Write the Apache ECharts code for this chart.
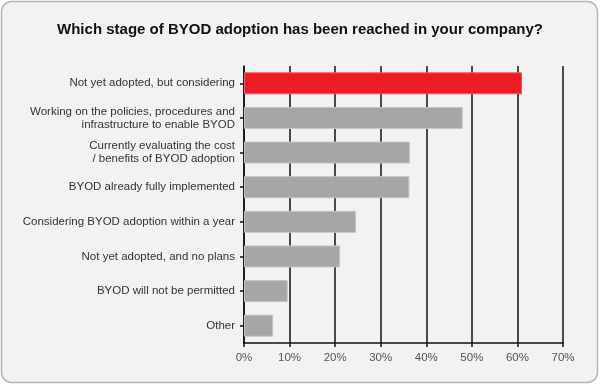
<!DOCTYPE html>
<html><head><meta charset="utf-8">
<script src="https://cdn.jsdelivr.net/npm/echarts@6/dist/echarts.min.js"></script>
<style>html,body{margin:0;padding:0;background:#fff}#c{width:600px;height:385px}</style>
</head><body><div id="c"></div>
<script>
const titleText = 'Which stage of BYOD adoption has been reached in your company?';
const categories = [
  'Not yet adopted, but considering',
  'Working on the policies, procedures and\ninfrastructure to enable BYOD',
  'Currently evaluating the cost\n/ benefits of BYOD adoption',
  'BYOD already fully implemented',
  'Considering BYOD adoption within a year',
  'Not yet adopted, and no plans',
  'BYOD will not be permitted',
  'Other'
];
const values = [61.0, 48.0, 36.4, 36.3, 24.6, 21.1, 9.6, 6.4];
const highlightIndex = 0;
const xMax = 70, xStep = 10;

const chart = echarts.init(document.getElementById('c'));
chart.setOption({
  backgroundColor: '#ffffff',
  animation: false,
  graphic: [{
    type: 'rect', z: -10, silent: true,
    shape: { x: 1.5, y: 1.5, width: 596, height: 381, r: 10 },
    style: { fill: '#f2f2f2', stroke: '#b5b5b5', lineWidth: 1.5 }
  }],
  title: {
    text: titleText, left: 'center', top: 17,
    textStyle: { fontFamily: 'Liberation Sans', fontWeight: 'bold', fontSize: 15, color: '#111' }
  },
  grid: { left: 244, right: 37, top: 66, bottom: 42 },
  xAxis: {
    type: 'value', min: 0, max: xMax, interval: xStep,
    axisLine: { show: true, lineStyle: { color: '#111', width: 1.5 } },
    axisTick: { show: true, length: 4, lineStyle: { color: '#111', width: 1.5 } },
    axisLabel: { formatter: '{value}%', color: '#555', fontFamily: 'Liberation Sans', fontSize: 11.5, margin: 9 },
    splitLine: { show: true, lineStyle: { color: '#111', width: 1.5 } }
  },
  yAxis: {
    type: 'category', data: categories, inverse: true,
    axisLine: { show: true, lineStyle: { color: '#111', width: 1.5 } },
    axisTick: { show: true, alignWithLabel: true, length: 4, lineStyle: { color: '#111', width: 1.5 } },
    axisLabel: { color: '#333', fontFamily: 'Liberation Sans', fontSize: 11.5, margin: 9, lineHeight: 13 }
  },
  series: [{
    type: 'bar', barWidth: 22,
    data: values.map((v, i) => ({
      value: v,
      itemStyle: i === highlightIndex
        ? { color: '#ed1c24', borderColor: '#f05a5f', borderWidth: 1 }
        : { color: '#a6a6a8', borderColor: '#c4c4c6', borderWidth: 1 }
    }))
  }]
});
</script></body></html>
